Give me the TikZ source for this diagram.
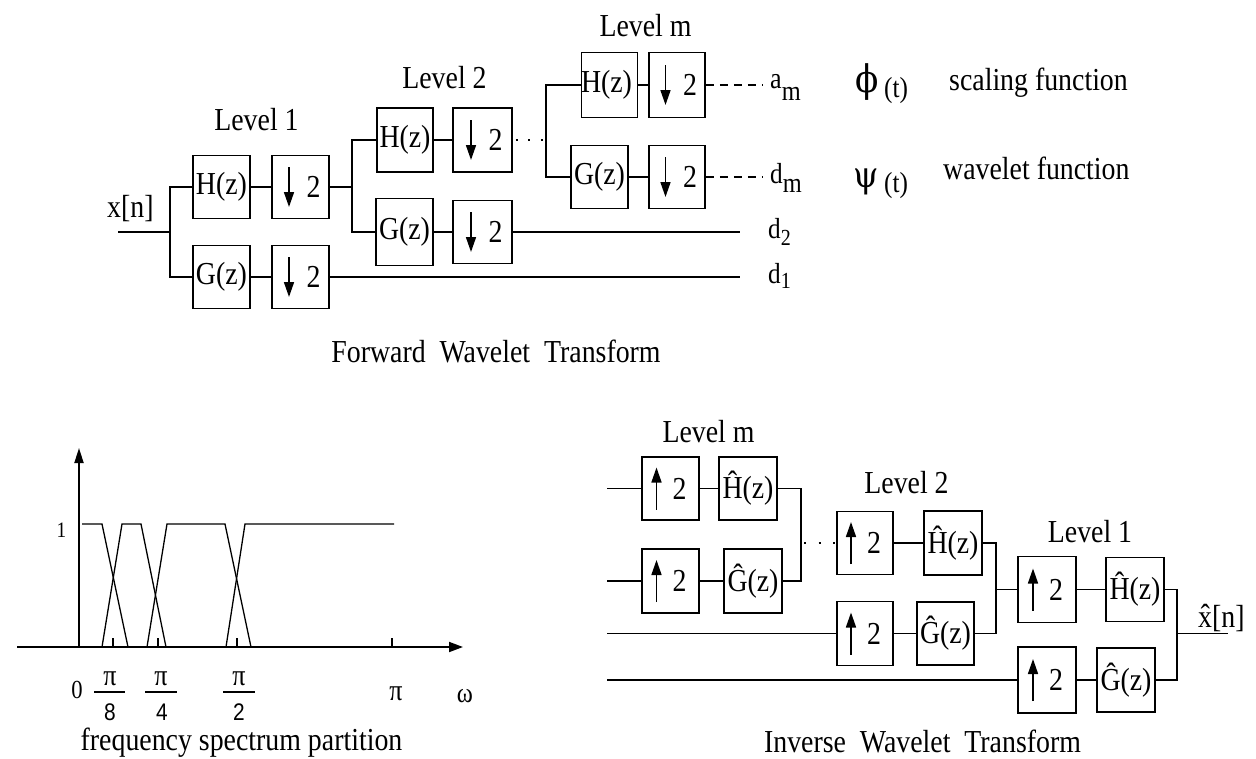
\documentclass[tikz,border=0pt]{standalone}
\usepackage{fontspec}
\setmainfont{Liberation Serif}[FakeStretch=0.87]
\newfontfamily\grk{DejaVu Serif}[FakeStretch=0.9]
\newfontfamily\sanf{Liberation Sans}[FakeStretch=0.87]
\usetikzlibrary{arrows.meta}
\begin{document}
\begin{tikzpicture}[x=1pt,y=-1pt,
  ln/.style={line width=1.8pt},
  thinln/.style={line width=1.3pt},
  fnt/.style={font=\fontsize{32}{36}\selectfont},
  lbl/.style={fnt, inner sep=0pt, anchor=base},
  small/.style={lbl, font=\fontsize{29}{30}\selectfont},
  box/.style={draw, line width=1.8pt, fnt, inner sep=0pt, minimum width=57pt, minimum height=63pt},
  arr/.style={line width=1.6pt, -{Triangle[width=10pt,length=15pt]}},
  dbox/.style={box, path picture={\draw[arr] ([xshift=#1,yshift=20pt]path picture bounding box.center) -- ++(0pt,-40pt);}},
  dbox/.default=-11.5pt,
  ubox/.style={box, path picture={\draw[arr] ([xshift=-14pt,yshift=-21pt]path picture bounding box.center) -- ++(0pt,42pt);}},
  dotln/.style={line width=2pt},
  dashln/.style={line width=1.8pt, dash pattern=on 8pt off 6pt},
]
\useasboundingbox (0,0) rectangle (1256,758);

% ================= Forward transform =================
\node[lbl] (lv1) at (256.5,130) {Level 1};
\node[lbl] (lv2) at (444.5,88) {Level 2};
\node[lbl] (lvm) at (645.5,36) {Level m};
\node[lbl, anchor=base west] (xn) at (107,217) {x[n]};

\coordinate (xin) at (118,232);
\coordinate (s1) at (170,232);
\node[box] (H1) at (221.5,187) {H(z)};
\node[dbox] (D1) at (300.5,187) {\hspace*{26pt}2};
\node[box] (G1) at (221.5,277) {G(z)};
\node[dbox] (D1b) at (300.5,277) {\hspace*{26pt}2};
\coordinate (s2) at (352,187);
\node[box, minimum width=56pt, minimum height=64pt] (H2) at (405,140) {H(z)};
\node[dbox, minimum width=59pt, minimum height=64pt] (D2) at (482.5,140) {\hspace*{26pt}2};
\node[box, minimum height=67pt] (G2) at (404.5,232) {G(z)};
\node[dbox, minimum width=59pt] (D2b) at (482.5,232) {\hspace*{26pt}2};
\coordinate (s3) at (546,140);
\node[box, minimum width=56pt, minimum height=65pt] (Hm) at (609.5,85) {\hspace*{-6pt}H(z)};
\node[dbox, minimum width=56pt, minimum height=65pt] (Dm) at (677,85) {\hspace*{26pt}2};
\node[box, minimum width=57pt, minimum height=63pt] (Gm) at (599.5,177) {G(z)};
\node[dbox, minimum width=56pt, minimum height=63pt] (Dmb) at (677,177) {\hspace*{26pt}2};
\coordinate (am) at (762,85);
\coordinate (dm) at (762,177);
\coordinate (d2e) at (740,232);
\coordinate (d1e) at (740,277);

\draw[ln] (xin) -- (s1);
\draw[ln] (H1.west) -| (s1) |- (G1.west);
\draw[ln] (H1) -- (D1);
\draw[ln] (G1) -- (D1b);
\draw[ln] (D1b.east) -- (d1e);
\draw[ln] (D1.east) -- (s2);
\draw[ln] (H2.west) -| (s2) |- (G2.west);
\draw[ln] (H2) -- (D2);
\draw[ln] (G2) -- (D2b);
\draw[ln] (D2b.east) -- (d2e);
\draw[dotln, dash pattern=on 0pt off 3pt on 2pt off 10.5pt on 2pt off 10.5pt on 2pt off 20pt] (D2.east) -- (s3);
\draw[ln] (Hm.west) -| (s3) |- (Gm.west);
\draw[ln] (Hm) -- (Dm);
\draw[ln] (Gm) -- (Dmb);
\draw[dashln] (Dm.east) -- (am);
\draw[dashln] (Dmb.east) -- (dm);

\node[lbl, anchor=base west, font=\fontsize{30}{30}\selectfont] (aml) at (770,88) {a\raisebox{-12pt}{\fontsize{28}{28}\selectfont m}};
\node[small, anchor=base west] (dml) at (770,183) {d\raisebox{-9pt}{\fontsize{28}{28}\selectfont m}};
\node[small, anchor=base west] (d2l) at (768,238) {d\raisebox{-7pt}{\fontsize{23}{23}\selectfont 2}};
\node[small, anchor=base west] (d1l) at (768,283) {d\raisebox{-5pt}{\fontsize{23}{23}\selectfont 1}};

\node[lbl, font=\grk\fontsize{38}{40}\selectfont] (phi) at (867.5,92) {ϕ};
\node[lbl, anchor=base west, font=\fontsize{29}{30}\selectfont] (phit) at (884,97) {(t)};
\node[lbl, anchor=base west] (scal) at (949,90) {scaling function};
\node[lbl, font=\grk\fontsize{36}{40}\selectfont] (psi) at (866,187) {ψ};
\node[lbl, anchor=base west, font=\fontsize{29}{30}\selectfont] (psit) at (884,192) {(t)};
\node[lbl, anchor=base west] (wav) at (943,179) {wavelet function};

\node[lbl] (ftitle) at (496,362) {Forward~~Wavelet~~Transform};

% ================= Spectrum =================
\coordinate (org) at (79,647);
\coordinate (ytop) at (79,448);
\coordinate (xl) at (17,647);
\coordinate (xr) at (463,647);
\draw[ln, -{Triangle[width=9pt,length=15pt]}] (org) -- (ytop);
\draw[ln, -{Triangle[width=10pt,length=14pt]}] (xl) -- (xr);
\draw[thinln] (82,524) -- (102,524) -- (128,647);
\draw[thinln] (102,647) -- (122,524) -- (141,524) -- (166,647);
\draw[thinln] (147,647) -- (167,524) -- (225,524) -- (251,647);
\draw[thinln] (226,647) -- (245,524) -- (394,524);
\foreach \t in {113,158,237,392} \draw[thinln] (\t,647) -- (\t,638);

\node[lbl, font=\fontsize{22}{24}\selectfont] (one) at (61.5,537) {1};
\node[lbl, font=\fontsize{26}{28}\selectfont] (zero) at (77,698) {0};
\node[lbl, font=\fontsize{30}{30}\selectfont, text height=14pt, text depth=0pt] (n8) at (110,685) {π};
\node[lbl, font=\fontsize{30}{30}\selectfont, text height=14pt, text depth=0pt] (n4) at (161,685) {π};
\node[lbl, font=\fontsize{30}{30}\selectfont, text height=14pt, text depth=0pt] (n2) at (239,685) {π};
\draw[thinln] (94,692) -- (125,692);
\draw[thinln] (145,692) -- (177,692);
\draw[thinln] (223,692) -- (255,692);
\node[lbl, font=\sanf\fontsize{24}{26}\selectfont, text height=18pt, text depth=0pt] (q8) at (110,720) {8};
\node[lbl, font=\sanf\fontsize{24}{26}\selectfont, text height=18pt, text depth=0pt] (q4) at (162,720) {4};
\node[lbl, font=\sanf\fontsize{24}{26}\selectfont, text height=18pt, text depth=0pt] (q2) at (239,720) {2};
\node[lbl, font=\fontsize{30}{30}\selectfont] (pi) at (396,700) {π};
\node[lbl, font=\fontsize{28}{28}\selectfont] (om) at (465,702) {ω};
\node[lbl, text height=22pt] (fcap) at (241.5,750) {frequency spectrum partition};

% ================= Inverse transform =================
\node[lbl] (ilvm) at (708.5,442) {Level m};
\node[lbl] (ilv2) at (906.5,493) {Level 2};
\node[lbl] (ilv1) at (1090,542) {Level 1};

\coordinate (im1) at (607,488.5);
\coordinate (im2) at (607,581);
\coordinate (i2) at (607,633.5);
\coordinate (i1) at (607,680);
\node[ubox] (Umt) at (670.5,488.5) {\hspace*{18pt}2};
\node[box, minimum width=58pt] (HHm) at (748,488.5) {Ĥ(z)};
\node[ubox, minimum height=64pt] (Umb) at (670.5,581) {\hspace*{18pt}2};
\node[box, minimum width=58pt, minimum height=64pt] (GGm) at (753,581) {Ĝ(z)};
\coordinate (j1) at (801,543);
\node[ubox, minimum width=56pt] (U2t) at (865,543) {\hspace*{18pt}2};
\node[box, minimum width=58pt, minimum height=64pt] (HH2) at (953,543) {Ĥ(z)};
\node[ubox, minimum width=56pt, minimum height=64pt] (U2b) at (865,633.5) {\hspace*{18pt}2};
\node[box] (GG2) at (945.5,633.5) {Ĝ(z)};
\coordinate (j2) at (996,589.5);
\node[ubox, minimum width=58pt, minimum height=66pt] (U1t) at (1047,589.5) {\hspace*{18pt}2};
\node[box, minimum width=58pt, minimum height=64pt] (HH1) at (1135,589.5) {Ĥ(z)};
\node[ubox, minimum width=58pt, minimum height=66pt] (U1b) at (1047,680) {\hspace*{18pt}2};
\node[box, minimum width=58pt, minimum height=64pt] (GG1) at (1126,680) {Ĝ(z)};
\coordinate (j3) at (1177,633.5);
\coordinate (xo) at (1228,633.5);
\node[lbl, anchor=base west] (xh) at (1198,627) {\^{x}[n]};

\draw[ln] (im1) -- (Umt);
\draw[ln] (Umt) -- (HHm);
\draw[ln] (im2) -- (Umb);
\draw[ln] (Umb) -- (GGm);
\draw[ln] (HHm.east) -| (j1) |- (GGm.east);
\draw[dotln, dash pattern=on 0pt off 3pt on 2pt off 12.5pt on 2pt off 12.5pt on 2pt off 20pt] (j1) -- (U2t.west);
\draw[ln] (U2t) -- (HH2);
\draw[ln] (i2) -- (U2b);
\draw[ln] (U2b) -- (GG2);
\draw[ln] (HH2.east) -| (j2) |- (GG2.east);
\draw[ln] (j2) -- (U1t);
\draw[ln] (U1t) -- (HH1);
\draw[ln] (i1) -- (U1b);
\draw[ln] (U1b) -- (GG1);
\draw[ln] (HH1.east) -| (j3) |- (GG1.east);
\draw[ln] (j3) -- (xo);

\node[lbl] (ititle) at (922.5,752) {Inverse~~Wavelet~~Transform};
\end{tikzpicture}
\end{document}
